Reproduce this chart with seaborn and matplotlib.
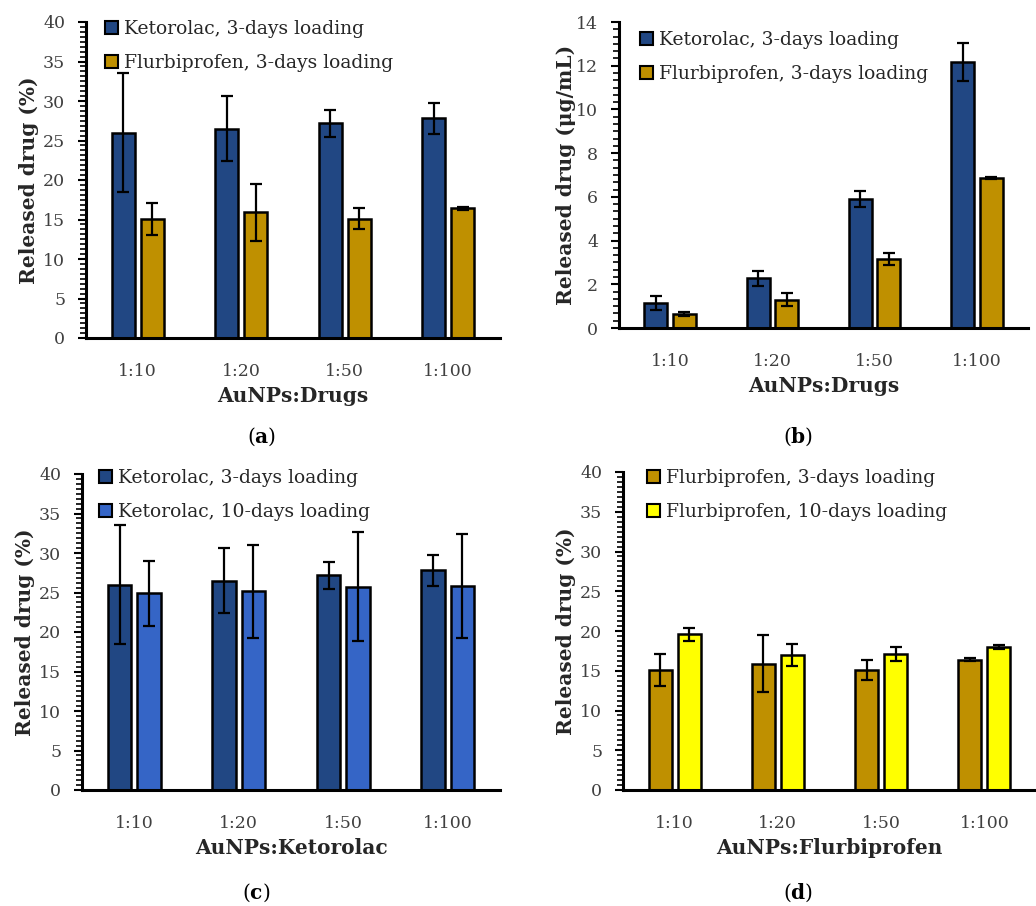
import matplotlib
matplotlib.use("Agg")
import matplotlib.pyplot as plt
import matplotlib.patches as mpatches
from matplotlib.ticker import MultipleLocator, AutoMinorLocator
import seaborn as sns
import pandas as pd

# ---------------- data ----------------
categories = ["1:10", "1:20", "1:50", "1:100"]

ket3_pct = [26.0, 26.5, 27.2, 27.8]
ket3_pct_err = [7.5, 4.1, 1.7, 2.0]
flu3_pct = [15.1, 15.9, 15.1, 16.4]
flu3_pct_err = [2.0, 3.6, 1.3, 0.15]

ket3_conc = [1.14, 2.28, 5.89, 12.15]
ket3_conc_err = [0.32, 0.35, 0.37, 0.87]
flu3_conc = [0.64, 1.29, 3.15, 6.85]
flu3_conc_err = [0.07, 0.30, 0.27, 0.04]

ket10_pct = [24.9, 25.15, 25.7, 25.8]
ket10_pct_err = [4.1, 5.85, 6.9, 6.6]
flu10_pct = [19.6, 16.96, 17.1, 17.96]
flu10_pct_err = [0.8, 1.35, 0.9, 0.25]

lab_ket3 = "Ketorolac, 3-days loading"
lab_flu3 = "Flurbiprofen, 3-days loading"
lab_ket10 = "Ketorolac, 10-days loading"
lab_flu10 = "Flurbiprofen, 10-days loading"

c_ket3 = "#214783"
c_flu3 = "#BF9000"
c_ket10 = "#3565C6"
c_flu10 = "#FFFF00"

# ---------------- style ----------------
sns.set_theme(style="white")
FONT = "DejaVu Serif"
plt.rcParams["font.family"] = [FONT, "DejaVu Sans"]
plt.rcParams["mathtext.fontset"] = "custom"
plt.rcParams["mathtext.rm"] = FONT
plt.rcParams["mathtext.bf"] = FONT + ":bold"

W, H = 1036, 906
fig = plt.figure(figsize=(W / 100, H / 100), dpi=100)


def add_ax(x0, x1, ytop, ybot):
    return fig.add_axes([x0 / W, 1 - ybot / H, (x1 - x0) / W, (ybot - ytop) / H])


def panel(ax, s1, e1, s2, e2, lab1, lab2, col1, col2, ymax, major, nminor,
          ylabel, xlabel, leg_x, leg_y, ylabelpad=3):
    df = pd.DataFrame({
        "cat": categories * 2,
        "val": list(s1) + list(s2),
        "grp": [lab1] * 4 + [lab2] * 4,
    })
    sns.barplot(data=df, x="cat", y="val", hue="grp", hue_order=[lab1, lab2],
                palette=[col1, col2], saturation=1, width=0.56, gap=0.2, ax=ax,
                edgecolor="black", linewidth=1.8, legend=False, errorbar=None)
    for cont, err in zip(ax.containers, [e1, e2]):
        xs = [p.get_x() + p.get_width() / 2 for p in cont.patches]
        hs = [p.get_height() for p in cont.patches]
        ax.errorbar(xs, hs, yerr=err, fmt="none", ecolor="black",
                    elinewidth=1.6, capsize=4.5, capthick=1.6, zorder=5)
    ax.set_xlim(-0.5, 3.5)
    ax.set_ylim(0, ymax)
    ax.yaxis.set_major_locator(MultipleLocator(major))
    ax.yaxis.set_minor_locator(AutoMinorLocator(nminor))
    for s in ["top", "right"]:
        ax.spines[s].set_visible(False)
    for s in ["left", "bottom"]:
        ax.spines[s].set_color("black")
        ax.spines[s].set_linewidth(2.2)
    ax.tick_params(axis="y", which="major", direction="out", length=6,
                   width=1.5, color="black", left=True, labelsize=12.5,
                   labelcolor="#404040", pad=9)
    ax.tick_params(axis="y", which="minor", direction="out", length=4,
                   width=1.2, color="black", left=True)
    ax.tick_params(axis="x", which="both", bottom=False, labelsize=12.5,
                   labelcolor="#404040", pad=12)
    ax.set_ylabel(ylabel, fontsize=14.5, fontweight="bold", color="#262626",
                  labelpad=ylabelpad)
    ax.set_xlabel(xlabel, fontsize=14.5, fontweight="bold", color="#262626",
                  labelpad=4)
    handles = [mpatches.Patch(facecolor=col1, edgecolor="black", linewidth=1.5, label=lab1),
               mpatches.Patch(facecolor=col2, edgecolor="black", linewidth=1.5, label=lab2)]
    ax.legend(handles=handles, loc="upper left", bbox_to_anchor=(leg_x, leg_y),
              frameon=False, fontsize=13.5, handlelength=0.7, handleheight=0.7,
              handletextpad=0.3, labelspacing=0.85, borderpad=0, borderaxespad=0,
              labelcolor="#262626")


# panel (a)
ax_a = add_ax(86, 500, 22, 338)
panel(ax_a, ket3_pct, ket3_pct_err, flu3_pct, flu3_pct_err, lab_ket3, lab_flu3,
      c_ket3, c_flu3, 40, 5, 8, "Released drug (%)", "AuNPs:Drugs",
      19 / 414, 1 + 2 / 316)
# panel (b)
ax_b = add_ax(619, 1028, 22, 328)
panel(ax_b, ket3_conc, ket3_conc_err, flu3_conc, flu3_conc_err, lab_ket3, lab_flu3,
      c_ket3, c_flu3, 14, 2, 6, "Released drug (\u03bcg/mL)", "AuNPs:Drugs",
      21 / 409, 1 - 9 / 306, ylabelpad=0)
# panel (c)
ax_c = add_ax(82, 500, 474, 790)
panel(ax_c, ket3_pct, ket3_pct_err, ket10_pct, ket10_pct_err, lab_ket3, lab_ket10,
      c_ket3, c_ket10, 40, 5, 8, "Released drug (%)", "AuNPs:Ketorolac",
      17 / 418, 1 + 5 / 316)
# panel (d)
ax_d = add_ax(623, 1036, 472, 790)
panel(ax_d, flu3_pct, flu3_pct_err, flu10_pct, flu10_pct_err, lab_flu3, lab_flu10,
      c_flu3, c_flu10, 40, 5, 8, "Released drug (%)", "AuNPs:Flurbiprofen",
      24 / 413, 1 + 3 / 318)

# panel captions
for x, y, letter in [(262, 437, "a"), (798, 437, "b"), (256, 893, "c"), (798, 893, "d")]:
    fig.text(x / W, 1 - y / H, r"($\mathbf{" + letter + r"}$)", ha="center",
             va="center", fontsize=14.5, color="black")

fig.savefig("out.png", dpi=100)
